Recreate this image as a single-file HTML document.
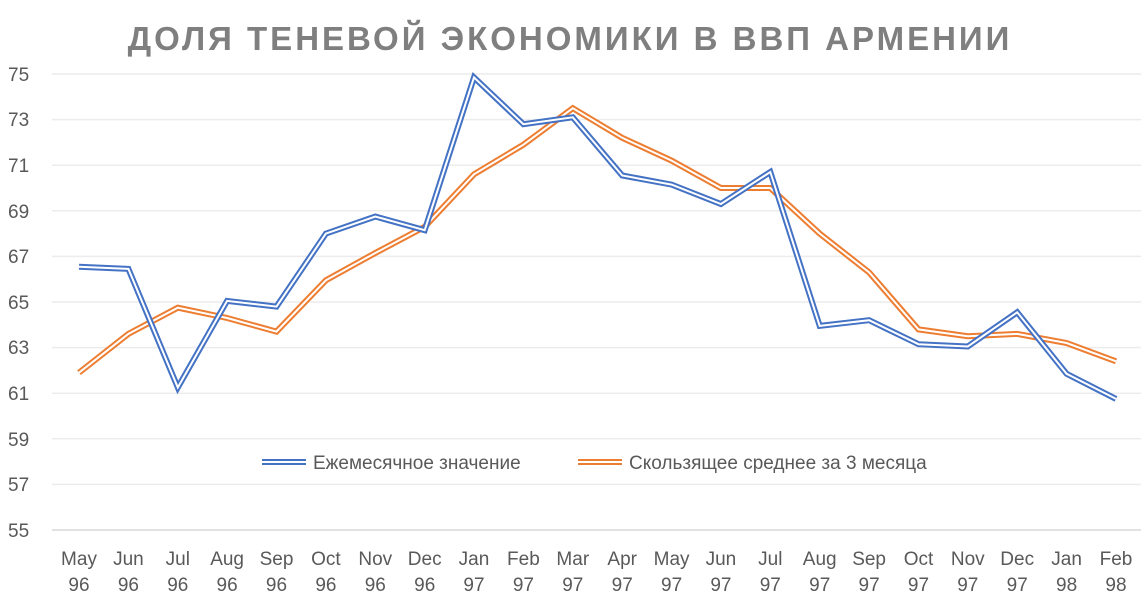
<!DOCTYPE html>
<html><head><meta charset="utf-8"><style>
body{margin:0;background:#fff;}
svg{display:block;font-family:"Liberation Sans","DejaVu Sans",sans-serif;}
</style></head><body>
<svg width="1141" height="597" viewBox="0 0 1141 597" xmlns="http://www.w3.org/2000/svg">
<rect width="1141" height="597" fill="#fff"/>
<text x="570" y="50" text-anchor="middle" font-size="33" font-weight="bold" fill="#7f7f7f" letter-spacing="3">ДОЛЯ ТЕНЕВОЙ ЭКОНОМИКИ В ВВП АРМЕНИИ</text>
<g stroke="#ececec" stroke-width="1.5">
<line x1="52" x2="1141" y1="74" y2="74"/><line x1="52" x2="1141" y1="119.6" y2="119.6"/>
<line x1="52" x2="1141" y1="165.2" y2="165.2"/><line x1="52" x2="1141" y1="210.8" y2="210.8"/>
<line x1="52" x2="1141" y1="256.4" y2="256.4"/><line x1="52" x2="1141" y1="302" y2="302"/>
<line x1="52" x2="1141" y1="347.6" y2="347.6"/><line x1="52" x2="1141" y1="393.2" y2="393.2"/>
<line x1="52" x2="1141" y1="438.8" y2="438.8"/><line x1="52" x2="1141" y1="484.4" y2="484.4"/>
</g>
<line x1="52" x2="1141" y1="530" y2="530" stroke="#d9d9d9" stroke-width="1.5"/>
<g font-size="19" fill="#595959" text-anchor="start">
<text x="8" y="81">75</text><text x="8" y="126">73</text><text x="8" y="172">71</text>
<text x="8" y="218">69</text><text x="8" y="263">67</text><text x="8" y="309">65</text>
<text x="8" y="354">63</text><text x="8" y="400">61</text><text x="8" y="446">59</text>
<text x="8" y="491">57</text><text x="8" y="537">55</text>
</g>
<g font-size="19" fill="#595959" text-anchor="middle">
<text x="79" y="565">May</text><text x="79" y="591">96</text>
<text x="128.4" y="565">Jun</text><text x="128.4" y="591">96</text>
<text x="177.8" y="565">Jul</text><text x="177.8" y="591">96</text>
<text x="227.1" y="565">Aug</text><text x="227.1" y="591">96</text>
<text x="276.5" y="565">Sep</text><text x="276.5" y="591">96</text>
<text x="325.9" y="565">Oct</text><text x="325.9" y="591">96</text>
<text x="375.3" y="565">Nov</text><text x="375.3" y="591">96</text>
<text x="424.7" y="565">Dec</text><text x="424.7" y="591">96</text>
<text x="474" y="565">Jan</text><text x="474" y="591">97</text>
<text x="523.4" y="565">Feb</text><text x="523.4" y="591">97</text>
<text x="572.8" y="565">Mar</text><text x="572.8" y="591">97</text>
<text x="622.2" y="565">Apr</text><text x="622.2" y="591">97</text>
<text x="671.6" y="565">May</text><text x="671.6" y="591">97</text>
<text x="720.9" y="565">Jun</text><text x="720.9" y="591">97</text>
<text x="770.3" y="565">Jul</text><text x="770.3" y="591">97</text>
<text x="819.7" y="565">Aug</text><text x="819.7" y="591">97</text>
<text x="869.1" y="565">Sep</text><text x="869.1" y="591">97</text>
<text x="918.5" y="565">Oct</text><text x="918.5" y="591">97</text>
<text x="967.8" y="565">Nov</text><text x="967.8" y="591">97</text>
<text x="1017.2" y="565">Dec</text><text x="1017.2" y="591">97</text>
<text x="1066.6" y="565">Jan</text><text x="1066.6" y="591">98</text>
<text x="1116" y="565">Feb</text><text x="1116" y="591">98</text>
</g>
<polyline id="o1" fill="none" stroke="#ed7d31" stroke-width="6"/>
<polyline id="o2" fill="none" stroke="#fff" stroke-width="2"/>
<polyline id="b1" fill="none" stroke="#4472c4" stroke-width="6"/>
<polyline id="b2" fill="none" stroke="#fff" stroke-width="2"/>
<line x1="262" x2="306" y1="462" y2="462" stroke="#4472c4" stroke-width="6"/>
<line x1="262" x2="306" y1="462" y2="462" stroke="#fff" stroke-width="2"/>
<text x="313" y="469" font-size="19" fill="#595959">Ежемесячное значение</text>
<line x1="578" x2="622" y1="462" y2="462" stroke="#ed7d31" stroke-width="6"/>
<line x1="578" x2="622" y1="462" y2="462" stroke="#fff" stroke-width="2"/>
<text x="629" y="469" font-size="19" fill="#595959">Скользящее среднее за 3 месяца</text>
<script>
var b=[66.55,66.45,61.25,65.05,64.8,68.0,68.75,68.15,74.85,72.8,73.1,70.55,70.15,69.3,70.7,63.95,64.2,63.15,63.05,64.55,61.85,60.75];
var o=[61.9,63.6,64.75,64.3,63.7,65.95,67.15,68.3,70.6,71.9,73.5,72.2,71.2,70.0,70.0,68.0,66.3,63.8,63.5,63.6,63.2,62.4];
function X(i){return 79+i*49.38}function Y(v){return 530-(v-55)*22.8}
function pts(a){return a.map(function(v,i){return X(i).toFixed(1)+","+Y(v).toFixed(1)}).join(" ")}
["o1","o2"].forEach(function(id){document.getElementById(id).setAttribute("points",pts(o))});
["b1","b2"].forEach(function(id){document.getElementById(id).setAttribute("points",pts(b))});
</script>
</svg>
</body></html>
